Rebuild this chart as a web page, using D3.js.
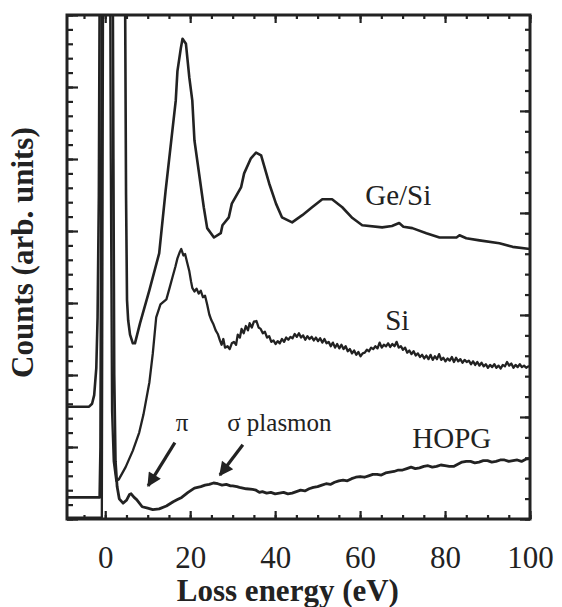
<!DOCTYPE html>
<html>
<head>
<meta charset="utf-8" />
<title>EELS spectra</title>
<style>
    body { margin: 0; background: #fff; }
    svg { display: block; }
    .axis path { display: none; }
    .axis line { stroke: #222; stroke-width: 2.2; }
    .axis text {
        font-family: "Liberation Serif", "Times New Roman", serif;
        font-size: 31px;
        fill: #222;
    }
    .curve { fill: none; stroke: #222; stroke-linejoin: round; }
    .lbl {
        font-family: "Liberation Serif", "Times New Roman", serif;
        fill: #222;
    }
</style>
<script src="https://d3js.org/d3.v7.min.js"></script>
</head>
<body>
<script>
// spectra: [loss energy (eV), counts (arb. units, offset)]
const geSi = [
    [-9, 1.56], [-3.8, 1.56], [-3.1, 1.60], [-2.6, 1.72], [-2.1, 2.1], [-1.8, 2.8],
    [-1.5, 4.5], [-1.3, 7.5], [-1.0, 10], [0.5, 12], [2.5, 11], [4.0, 9],
    [4.7, 7], [4.9, 4.5], [5.13, 3.04], [5.4, 2.76], [5.84, 2.56], [6.5, 2.44],
    [7.0, 2.44], [8.2, 2.72], [10.4, 3.18], [12.7, 3.69], [14.2, 4.55],
    [16.6, 5.81], [17.0, 6.22], [17.8, 6.54], [18.2, 6.67], [19.0, 6.60],
    [19.8, 6.13], [20.5, 5.81], [21.0, 5.26], [23.2, 4.33], [24.0, 4.04],
    [25.6, 3.91], [27.2, 3.97], [27.6, 4.08], [29.1, 4.19], [29.8, 4.38],
    [32.0, 4.61], [32.7, 4.80], [34.3, 5.01], [35.5, 5.09], [36.7, 5.05],
    [38.6, 4.66], [40.2, 4.38], [41.6, 4.19], [44.0, 4.12], [46.4, 4.22],
    [48.7, 4.33], [51.1, 4.44], [53.4, 4.44], [55.8, 4.33], [58.2, 4.18],
    [60.5, 4.08], [65.2, 4.05], [67.5, 4.07], [69.2, 4.11], [70.2, 4.06],
    [72.3, 4.04], [75.6, 3.97], [78.7, 3.91], [82.7, 3.91], [83.4, 3.94],
    [85.0, 3.90], [88.1, 3.87], [92.8, 3.83], [95.9, 3.78], [100, 3.75]
];

const si = [
    [-9, 0.02], [-0.8, 0.02], [-0.6, 5], [-0.4, 10], [0.5, 12], [1.0, 10],
    [1.3, 5], [1.6, 1.5], [2.0, 0.8], [2.6, 0.53], [3.2, 0.55], [4.8, 0.72],
    [6.5, 0.95], [8.0, 1.20], [9.0, 1.45], [10.4, 1.90], [11.2, 2.3],
    [12.0, 2.80], [13.0, 2.98], [14.4, 3.05], [15.2, 3.22], [15.8, 3.35],
    [16.5, 3.50], [17.0, 3.62], [17.5, 3.70], [17.9, 3.75], [18.4, 3.66],
    [18.8, 3.68], [19.3, 3.56], [19.8, 3.44], [20.2, 3.30],
    [20.5, 3.21], [21.0, 3.16], [21.5, 3.20], [22.0, 3.13], [22.5, 3.17],
    [23.0, 3.08], [23.5, 3.10], [24.0, 2.98], [24.5, 2.84], [25.0, 2.76],
    [25.5, 2.70], [26.0, 2.62], [26.5, 2.57], [27.0, 2.48], [27.4, 2.42],
    [27.8, 2.50], [28.2, 2.38], [28.8, 2.40], [29.3, 2.36], [29.8, 2.44],
    [30.3, 2.46], [30.8, 2.42], [31.2, 2.56], [31.7, 2.52], [32.1, 2.64],
    [32.6, 2.58], [33.1, 2.68], [33.6, 2.62], [34.0, 2.72], [34.5, 2.66],
    [35.0, 2.74], [35.6, 2.75], [36.1, 2.66], [36.6, 2.64], [37.1, 2.58],
    [37.6, 2.60], [38.1, 2.52], [38.6, 2.54], [39.1, 2.46], [39.6, 2.48],
    [40.1, 2.43], [40.6, 2.47], [41.1, 2.44], [41.6, 2.50], [42.1, 2.46],
    [42.6, 2.52], [43.1, 2.49], [43.6, 2.53], [44.1, 2.51], [44.6, 2.57],
    [45.1, 2.53], [45.6, 2.58], [46.1, 2.52], [46.6, 2.55], [47.1, 2.49],
    [47.6, 2.54], [48.1, 2.50], [48.6, 2.53], [49.1, 2.48], [49.6, 2.52],
    [50.1, 2.47], [50.6, 2.51], [51.1, 2.45], [51.6, 2.50], [52.1, 2.44],
    [52.6, 2.46], [53.1, 2.40], [53.6, 2.45], [54.1, 2.38], [54.6, 2.43],
    [55.1, 2.37], [55.6, 2.42], [56.1, 2.36], [56.6, 2.40], [57.1, 2.33],
    [57.6, 2.36], [58.1, 2.30], [58.6, 2.34], [59.1, 2.28], [59.6, 2.32],
    [60.1, 2.26], [60.6, 2.30], [61.1, 2.31], [61.6, 2.35], [62.1, 2.33],
    [62.6, 2.38], [63.1, 2.36], [63.6, 2.40], [64.1, 2.37], [64.6, 2.45],
    [65.1, 2.38], [65.6, 2.42], [66.1, 2.40], [66.6, 2.44], [67.1, 2.39],
    [67.6, 2.43], [68.1, 2.40], [68.6, 2.46], [69.1, 2.38], [69.6, 2.40],
    [70.1, 2.35], [70.6, 2.38], [71.1, 2.31], [71.6, 2.34], [72.1, 2.29],
    [72.6, 2.33], [73.1, 2.27], [73.6, 2.30], [74.1, 2.25], [74.6, 2.28],
    [75.1, 2.23], [75.6, 2.27], [76.1, 2.22], [76.6, 2.28], [77.1, 2.21],
    [77.6, 2.26], [78.1, 2.22], [78.6, 2.29], [79.1, 2.21], [79.6, 2.24],
    [80.1, 2.19], [80.6, 2.23], [81.1, 2.20], [81.6, 2.25], [82.1, 2.18],
    [82.6, 2.24], [83.1, 2.19], [83.6, 2.22], [84.1, 2.17], [84.6, 2.21],
    [85.1, 2.18], [85.6, 2.20], [86.1, 2.15], [86.6, 2.19], [87.1, 2.14],
    [87.6, 2.18], [88.1, 2.13], [88.6, 2.17], [89.1, 2.12], [89.6, 2.15],
    [90.1, 2.10], [90.6, 2.14], [91.1, 2.11], [91.6, 2.15], [92.1, 2.10],
    [92.6, 2.13], [93.1, 2.09], [93.6, 2.14], [94.1, 2.12], [94.6, 2.18],
    [95.1, 2.13], [95.6, 2.16], [96.1, 2.10], [96.6, 2.14], [97.1, 2.11],
    [97.6, 2.15], [98.1, 2.11], [98.6, 2.13], [99.1, 2.10], [99.6, 2.12],
    [100, 2.12]
];

const hopg = [
    [-9, 0.30], [-1.3, 0.30], [-1.1, 1], [-0.9, 5], [-0.6, 10], [0.5, 12],
    [1.6, 10], [1.9, 5], [2.1, 2], [2.4, 0.8], [2.8, 0.45], [3.3, 0.28],
    [4.2, 0.22], [5.0, 0.26], [5.7, 0.34], [6.1, 0.35], [6.8, 0.30],
    [7.4, 0.27], [8.7, 0.17], [10.0, 0.15], [11.2, 0.13], [12.7, 0.14],
    [14.4, 0.18], [16.0, 0.24], [17.0, 0.27], [18.0, 0.30], [19.5, 0.37],
    [21.0, 0.43], [22.5, 0.45], [23.5, 0.47], [24.5, 0.48], [25.5, 0.50],
    [26.5, 0.49], [27.5, 0.47], [28.5, 0.48], [29.5, 0.46], [30.0, 0.46],
    [31.0, 0.45], [31.6, 0.44], [33.2, 0.42], [34.7, 0.41], [35.5, 0.40],
    [36.3, 0.37], [37.0, 0.38], [38.0, 0.36], [39.0, 0.37], [40.0, 0.35],
    [41.0, 0.36], [42.0, 0.37], [43.0, 0.35], [44.0, 0.36], [45.0, 0.38],
    [46.0, 0.40], [47.0, 0.39], [48.0, 0.42], [49.0, 0.44], [50.0, 0.45],
    [51.0, 0.47], [52.0, 0.49], [53.0, 0.48], [54.0, 0.51], [55.0, 0.53],
    [56.0, 0.54], [57.0, 0.53], [58.0, 0.56], [59.0, 0.58], [60.0, 0.59],
    [61.0, 0.58], [62.0, 0.60], [63.0, 0.62], [64.0, 0.62], [65.0, 0.61],
    [66.0, 0.64], [67.0, 0.65], [68.0, 0.66], [69.0, 0.68], [70.0, 0.68],
    [71.0, 0.70], [72.0, 0.72], [73.0, 0.70], [74.0, 0.71], [75.0, 0.73],
    [76.0, 0.74], [77.0, 0.72], [78.0, 0.73], [79.0, 0.75], [80.0, 0.74],
    [81.0, 0.73], [82.0, 0.73], [83.0, 0.76], [84.0, 0.79], [85.0, 0.80],
    [86.0, 0.80], [87.0, 0.78], [88.0, 0.79], [89.0, 0.81], [90.0, 0.81],
    [91.0, 0.79], [92.0, 0.80], [93.0, 0.82], [94.0, 0.82], [95.0, 0.80],
    [96.0, 0.81], [97.0, 0.82], [98.0, 0.80], [99.0, 0.83], [100, 0.84]
];

const xMajor = [0, 20, 40, 60, 80, 100];
const xMinor = d3.range(-5, 101, 5);
const yMajor = [0, 1, 2, 3, 4, 5, 6, 7];
const yMinor = d3.range(0, 7.01, 0.2);
const y2Major = [0, 1, 2, 3, 4];
const y2Minor = d3.range(0, 4.95, 0.2);

// curve labels [text, eV, counts]
const curveLabels = [["Ge/Si", 61.2, 4.36], ["Si", 65.9, 2.63], ["HOPG", 72.3, 0.99]];
// arrows [from eV, from counts, to eV, to counts]
const arrows = [[16.4, 1.06, 10.1, 0.46], [32.4, 1.03, 27.0, 0.61]];

const W = 562, H = 607;
const margin = { top: 15, right: 32, bottom: 88, left: 67 };
const w = W - margin.left - margin.right,
      h = H - margin.top - margin.bottom;

const xScale = d3.scaleLinear().domain([-9, 100]).range([0, w]);
const yScale = d3.scaleLinear().domain([0, 7]).range([h, 0]);
const y2Scale = d3.scaleLinear().domain([0, 4.94]).range([h, 0]);

const svg = d3.select("body").append("svg")
    .attr("width", W)
    .attr("height", H);

const g = svg.append("g")
    .attr("transform", "translate(" + margin.left + "," + margin.top + ")");

g.append("clipPath").attr("id", "plotclip")
    .append("rect").attr("width", w).attr("height", h);

// ticks, all pointing inward
function tickAxis(axis, cls, tr) {
    return g.append("g").attr("class", "axis " + cls)
        .attr("transform", tr)
        .call(axis);
}
tickAxis(d3.axisBottom(xScale).tickValues(xMinor).tickSize(-4).tickFormat(""), "", "translate(0," + h + ")");
tickAxis(d3.axisBottom(xScale).tickValues(xMajor).tickSize(-8).tickPadding(27), "", "translate(0," + h + ")");
tickAxis(d3.axisTop(xScale).tickValues(xMinor).tickSize(-4).tickFormat(""), "", "translate(0,0)");
tickAxis(d3.axisTop(xScale).tickValues(xMajor).tickSize(-8).tickFormat(""), "", "translate(0,0)");
tickAxis(d3.axisLeft(yScale).tickValues(yMinor).tickSize(-6).tickFormat(""), "", "translate(0,0)");
tickAxis(d3.axisLeft(yScale).tickValues(yMajor).tickSize(-11).tickFormat(""), "", "translate(0,0)");
tickAxis(d3.axisRight(y2Scale).tickValues(y2Minor).tickSize(-5).tickFormat(""), "", "translate(" + w + ",0)");
tickAxis(d3.axisRight(y2Scale).tickValues(y2Major).tickSize(-10).tickFormat(""), "", "translate(" + w + ",0)");

// spectra
const line = d3.line()
    .x(d => xScale(d[0]))
    .y(d => yScale(d[1]));

const plot = g.append("g").attr("clip-path", "url(#plotclip)");
[[geSi, 2.6], [si, 2.3], [hopg, 2.8]].forEach(s => {
    plot.append("path")
        .attr("class", "curve")
        .attr("d", line(s[0]))
        .attr("stroke-width", s[1]);
});

// frame
g.append("rect")
    .attr("width", w).attr("height", h)
    .attr("fill", "none")
    .attr("stroke", "#222")
    .attr("stroke-width", 3);

// curve labels
g.selectAll("text.curvelbl")
    .data(curveLabels)
    .enter()
    .append("text")
    .attr("class", "lbl curvelbl")
    .attr("x", d => xScale(d[1]))
    .attr("y", d => yScale(d[2]))
    .attr("font-size", 29)
    .text(d => d[0]);

// pi / sigma plasmon annotation
g.append("text").attr("class", "lbl")
    .attr("x", xScale(18.1)).attr("y", yScale(1.22))
    .attr("text-anchor", "middle")
    .attr("font-size", 25)
    .text("π");
g.append("text").attr("class", "lbl")
    .attr("x", xScale(28.7)).attr("y", yScale(1.22))
    .attr("font-size", 25)
    .text("σ plasmon");

svg.append("defs").append("marker")
    .attr("id", "head")
    .attr("viewBox", "0 0 10 10")
    .attr("refX", 9).attr("refY", 5)
    .attr("markerWidth", 5).attr("markerHeight", 4.4)
    .attr("markerUnits", "strokeWidth")
    .attr("orient", "auto")
    .append("path")
    .attr("d", "M0,0 L10,5 L0,10 Z")
    .attr("fill", "#222");

g.selectAll("line.arrow")
    .data(arrows)
    .enter()
    .append("line")
    .attr("class", "arrow")
    .attr("x1", d => xScale(d[0]))
    .attr("y1", d => yScale(d[1]))
    .attr("x2", d => xScale(d[2]))
    .attr("y2", d => yScale(d[3]))
    .attr("stroke", "#222")
    .attr("stroke-width", 3.2)
    .attr("marker-end", "url(#head)");

// axis titles
svg.append("text").attr("class", "lbl")
    .attr("x", margin.left + xScale(43))
    .attr("y", 601)
    .attr("text-anchor", "middle")
    .attr("font-size", 31)
    .attr("font-weight", "bold")
    .text("Loss energy (eV)");

svg.append("text").attr("class", "lbl")
    .attr("transform", "translate(33," + (margin.top + yScale(3.7)) + ") rotate(-90)")
    .attr("text-anchor", "middle")
    .attr("font-size", 31)
    .attr("font-weight", "bold")
    .text("Counts (arb. units)");
</script>
</body>
</html>
